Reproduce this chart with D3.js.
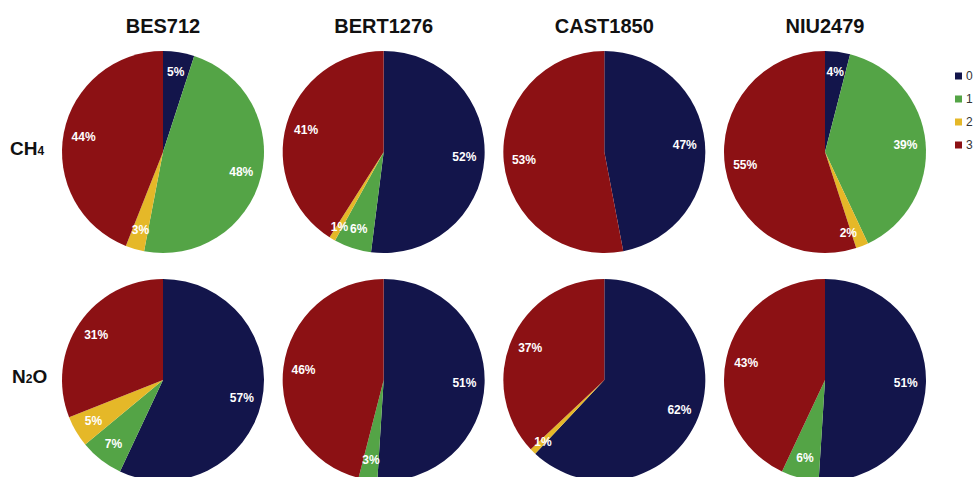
<!DOCTYPE html>
<html>
<head>
<meta charset="utf-8">
<script src="https://cdn.jsdelivr.net/npm/d3@7/dist/d3.min.js"></script>
<style>
  html, body { margin: 0; padding: 0; background: #fff; }
  svg { display: block; font-family: "Liberation Sans", Arial, Helvetica, sans-serif; }
</style>
</head>
<body>
<svg id="chart" width="976" height="477"></svg>
<script>
// ---- data ----
const sites = ["BES712", "BERT1276", "CAST1850", "NIU2479"];
const gases = ["CH4", "N2O"];
const groups = ["0", "1", "2", "3"];
// percentage share of groups 0,1,2,3 per site
const ch4Values = [
  [5, 48, 3, 44],
  [52, 6, 1, 41],
  [47, 0, 0, 53],
  [4, 39, 2, 55]
];
const n2oValues = [
  [57, 7, 5, 31],
  [51, 3, 0, 46],
  [62, 0, 1, 37],
  [51, 6, 0, 43]
];
const groupColors = ["#13154b", "#54a446", "#e5b828", "#8c1114"];

// ---- layout ----
const svg = d3.select("#chart");
const R = 101;
const x = d3.scalePoint().domain(sites).range([163, 825]);
const y = d3.scalePoint().domain(gases).range([152, 380]);
const color = d3.scaleOrdinal().domain(groups).range(groupColors);

const pie = d3.pie().sort(null).value(d => d.value);
const arc = d3.arc().innerRadius(0).outerRadius(R);
const labelArc = d3.arc().innerRadius(R * 0.8).outerRadius(R * 0.8);
const smallLabelArc = d3.arc().innerRadius(R * 0.86).outerRadius(R * 0.86);

// titles
svg.selectAll("text.title").data(sites).join("text")
  .attr("class", "title")
  .attr("x", d => x(d)).attr("y", 33)
  .attr("text-anchor", "middle")
  .attr("font-size", 20).attr("font-weight", "bold").attr("fill", "#111")
  .text(d => d);

// row labels
const rowLabel = svg.selectAll("text.row").data(gases).join("text")
  .attr("class", "row")
  .attr("x", 10)
  .attr("y", d => y(d) + 3)
  .attr("font-size", 19).attr("font-weight", "bold").attr("fill", "#111");
rowLabel.each(function(d) {
  const t = d3.select(this);
  if (d === "CH4") {
    t.append("tspan").text("CH");
    t.append("tspan").attr("font-size", 12).text("4");
  } else {
    t.attr("x", 12);
    t.append("tspan").text("N");
    t.append("tspan").attr("font-size", 12).text("2");
    t.append("tspan").text("O");
  }
});

// pies
const allData = { CH4: ch4Values, N2O: n2oValues };
gases.forEach(g => {
  sites.forEach((s, i) => {
    const vals = allData[g][i].map((v, k) => ({ group: groups[k], value: v }));
    const arcs = pie(vals);
    const gEl = svg.append("g").attr("transform", `translate(${x(s)},${y(g)})`);
    gEl.selectAll("path").data(arcs).join("path")
      .attr("d", arc)
      .attr("fill", d => color(d.data.group));
    gEl.selectAll("text").data(arcs.filter(d => d.data.value > 0)).join("text")
      .attr("transform", d => `translate(${(d.data.value <= 2 ? smallLabelArc : labelArc).centroid(d)})`)
      .attr("text-anchor", d => (d.data.value <= 2 && d.data.group === "2" && i === 3) ? "end" : "middle")
      .attr("dy", "0.35em")
      .attr("font-size", 12).attr("font-weight", "bold").attr("fill", "#fff")
      .text(d => d.data.value + "%");
  });
});

// legend
const leg = svg.append("g").attr("transform", "translate(955,76)");
const li = leg.selectAll("g").data(groups).join("g")
  .attr("transform", (d, i) => `translate(0,${i * 23})`);
li.append("rect").attr("x", 0).attr("y", -3.5).attr("width", 7).attr("height", 7)
  .attr("fill", d => color(d));
li.append("text").attr("x", 11).attr("dy", "0.35em")
  .attr("font-size", 12).attr("fill", "#333").text(d => d);
</script>
</body>
</html>
